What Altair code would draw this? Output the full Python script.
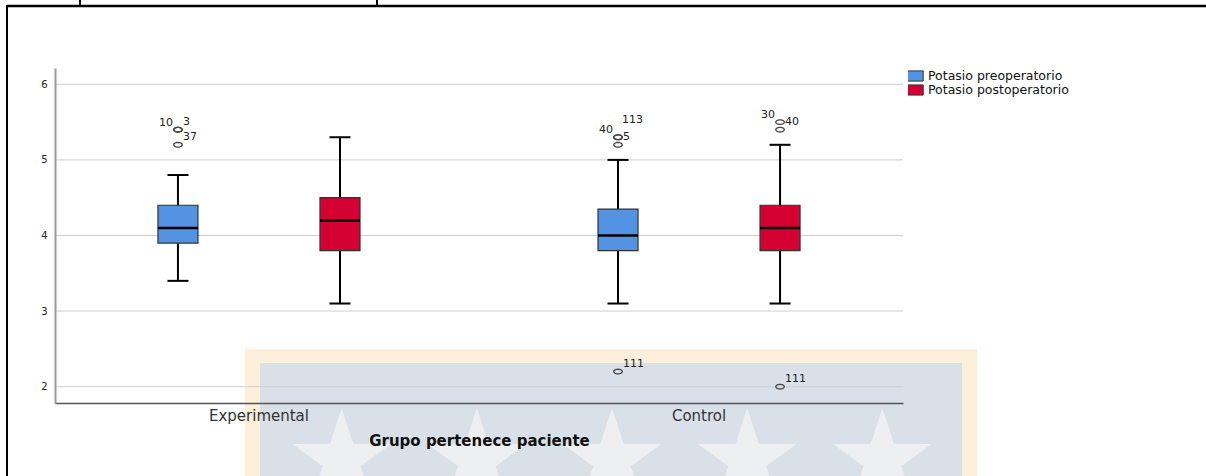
import math
import altair as alt
import pandas as pd

# ---- box statistics per group and measurement ----
group_order = ["Experimental", "Control"]
series_order = ["Potasio preoperatorio", "Potasio postoperatorio"]

groups = ["Experimental", "Experimental", "Control", "Control"]
series = ["Potasio preoperatorio", "Potasio postoperatorio",
          "Potasio preoperatorio", "Potasio postoperatorio"]
whisker_low = [3.4, 3.1, 3.1, 3.1]
q1 = [3.9, 3.8, 3.8, 3.8]
median = [4.1, 4.2, 4.0, 4.1]
q3 = [4.4, 4.5, 4.35, 4.4]
whisker_high = [4.8, 5.3, 5.0, 5.2]

# ---- outlying cases ----
out_group = ["Experimental", "Experimental", "Experimental",
             "Control", "Control", "Control", "Control",
             "Control", "Control", "Control"]
out_series = ["Potasio preoperatorio"] * 7 + ["Potasio postoperatorio"] * 3
out_value = [5.4, 5.4, 5.2, 5.3, 5.3, 5.2, 2.2, 5.5, 5.4, 2.0]
out_case = ["10", "3", "37", "40", "113", "5", "111", "30", "40", "111"]

grid_values = [2, 3, 4, 5, 6]

BLUE = "#5492E3"
RED = "#D40032"
FONT = "DejaVu Sans"

boxes = pd.DataFrame({"group": groups, "series": series, "low": whisker_low,
                      "q1": q1, "median": median, "q3": q3, "high": whisker_high})
outliers = pd.DataFrame({"group": out_group, "series": out_series,
                         "value": out_value, "case": out_case})

# where each case number sits relative to its circle
left_cases = {("Experimental", "Potasio preoperatorio", "10"),
              ("Control", "Potasio preoperatorio", "40"),
              ("Control", "Potasio postoperatorio", "30")}
raised_cases = {("Control", "Potasio preoperatorio", "113")}


def side(row):
    key = (row["group"], row["series"], row["case"])
    if key in left_cases:
        return "left"
    if key in raised_cases:
        return "up"
    return "right"


outliers["side"] = outliers.apply(side, axis=1)

# ---- shared encodings ----
x_scale = alt.Scale(domain=group_order, paddingInner=0.5, paddingOuter=0.2135)
xo_scale = alt.Scale(domain=series_order, paddingInner=0.753, paddingOuter=0.0555)
y_scale = alt.Scale(domain=[1.784, 6.216], nice=False, zero=False)

x_axis = alt.Axis(title="Grupo pertenece paciente", labelAngle=0, ticks=False,
                  grid=False, domainColor="#555555", domainWidth=1.5,
                  labelFont=FONT, labelFontSize=15, labelColor="#333333",
                  labelPadding=5, titleFont=FONT, titleFontSize=15,
                  titleFontWeight="bold", titleColor="#111111",
                  titlePadding=10, zindex=1)
y_axis = alt.Axis(title=None, values=grid_values, format="d", ticks=False,
                  grid=False, domainColor="#9a9a9a", domainWidth=2,
                  labelFont=FONT, labelFontSize=10, labelColor="#222222",
                  labelPadding=8, zindex=1)


def X():
    return alt.X("group:N", sort=group_order, scale=x_scale, axis=x_axis)


def XO():
    return alt.XOffset("series:N", sort=series_order, scale=xo_scale)


def Y(field):
    return alt.Y(f"{field}:Q", scale=y_scale, axis=y_axis)


one = pd.DataFrame({"k": [0]})

# ---- watermark behind the plot ----
wm_frame = alt.Chart(one).mark_rect(color="#FDEFD9").encode(
    x=alt.value(190), x2=alt.value(922), y=alt.value(281), y2=alt.value(420))
wm_field = alt.Chart(one).mark_rect(color="#D9E0E8").encode(
    x=alt.value(205), x2=alt.value(907), y=alt.value(295), y2=alt.value(420))


def star_row(count=5, spacing=2.6, inner=0.382):
    parts = []
    for s in range(count):
        cx = (s - (count - 1) / 2) * spacing
        pts = []
        for k in range(10):
            r = 1.0 if k % 2 == 0 else inner
            a = math.radians(-90 + 36 * k)
            pts.append(f"{cx + r * math.cos(a):.4f},{r * math.sin(a):.4f}")
        parts.append("M" + "L".join(pts) + "Z")
    return "".join(parts)


wm_stars = alt.Chart(one).mark_point(
    shape=star_row(), filled=True, color="#EEEFF1", opacity=1, size=10816
).encode(x=alt.value(557), y=alt.value(392))

# ---- page frame lines ----
frame_top = alt.Chart(one).mark_rule(color="black", strokeWidth=2.5).encode(
    x=alt.value(-48), x2=alt.value(1151), y=alt.value(-62))
frame_left = alt.Chart(one).mark_rule(color="black", strokeWidth=2).encode(
    x=alt.value(-48), y=alt.value(-63), y2=alt.value(420))
frame_tick1 = alt.Chart(one).mark_rule(color="black", strokeWidth=2).encode(
    x=alt.value(25), y=alt.value(-70), y2=alt.value(-62))
frame_tick2 = alt.Chart(one).mark_rule(color="black", strokeWidth=2).encode(
    x=alt.value(322), y=alt.value(-70), y2=alt.value(-62))

# ---- gridlines ----
grid = alt.Chart(pd.DataFrame({"v": grid_values})).mark_rule(
    color="#cfcfcf", strokeWidth=1).encode(y=Y("v"))

# ---- box plots ----
base = alt.Chart(boxes)
whiskers = base.mark_rule(color="black", strokeWidth=2).encode(
    x=X(), xOffset=XO(), y=Y("low"), y2="high")
box = base.mark_bar(stroke="#333333", strokeWidth=1.2, opacity=1).encode(
    x=X(), xOffset=XO(), y=Y("q1"), y2="q3",
    color=alt.Color("series:N", sort=series_order,
                    scale=alt.Scale(domain=series_order, range=[BLUE, RED]),
                    legend=alt.Legend(
                        title=None, orient="none", legendX=853, legendY=2,
                        symbolType="M-1.45,-0.85H1.45V0.85H-1.45Z",
                        symbolSize=144, symbolStrokeColor="#333333",
                        symbolStrokeWidth=1, symbolOpacity=1,
                        labelFont=FONT, labelFontSize=12.5, labelColor="#111111",
                        labelOffset=7, rowPadding=1, clipHeight=12)))
medians = base.mark_tick(color="black", size=40, thickness=2.5, opacity=1).encode(
    x=X(), xOffset=XO(), y=Y("median"))
cap_low = base.mark_tick(color="black", size=21, thickness=2, opacity=1).encode(
    x=X(), xOffset=XO(), y=Y("low"))
cap_high = base.mark_tick(color="black", size=21, thickness=2, opacity=1).encode(
    x=X(), xOffset=XO(), y=Y("high"))


# ---- outliers and their case numbers ----
def ellipse_path(ry=0.55, n=28):
    pts = []
    for k in range(n):
        a = 2 * math.pi * k / n
        pts.append(f"{math.cos(a):.4f},{ry * math.sin(a):.4f}")
    return "M" + "L".join(pts) + "Z"


points = alt.Chart(outliers).mark_point(
    shape=ellipse_path(), size=72, filled=False, stroke="#444444",
    strokeWidth=1.3, opacity=1).encode(x=X(), xOffset=XO(), y=Y("value"))


def case_labels(where, align, dx, dy):
    return alt.Chart(outliers).transform_filter(
        alt.datum.side == where
    ).mark_text(font=FONT, fontSize=11, color="#222222", align=align,
                baseline="middle", dx=dx, dy=dy).encode(
        x=X(), xOffset=XO(), y=Y("value"), text="case:N")


labels = [case_labels("right", "left", 5, -8),
          case_labels("left", "right", -5, -7),
          case_labels("up", "left", 4, -17)]

chart = alt.layer(
    wm_frame, wm_field, wm_stars,
    frame_top, frame_left, frame_tick1, frame_tick2,
    grid, whiskers, box, medians, cap_low, cap_high, points, *labels
).properties(
    width=848, height=335,
    autosize=alt.AutoSizeParams(type="none"),
    padding={"left": 55, "top": 68, "right": 303, "bottom": 73},
    background="white",
).configure_view(stroke=None)

chart.save("out.html", embed_options={"renderer": "svg", "actions": False})
